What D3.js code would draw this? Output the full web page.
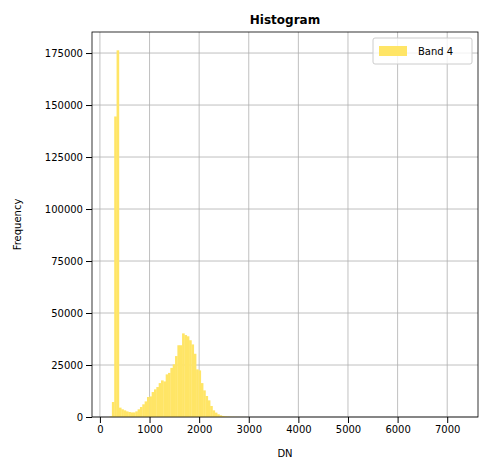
<!DOCTYPE html>
<html><head><meta charset="utf-8">
<script src="https://cdn.jsdelivr.net/npm/d3@7"></script>
<style>body{margin:0;background:#fff}text{font-family:"DejaVu Sans",sans-serif}</style>
</head><body><svg id="chart" width="489" height="470"></svg>
<script>
// histogram counts, 150 equal bins from binMin to binMax
const binMin = 194;
const binMax = 7267;
const counts = [300,7200,144500,176300,4500,3700,3200,2700,2400,2200,2200,2700,3700,4800,6100,7500,9600,9900,12000,13300,
  14400,16300,17600,17100,20500,21200,23600,25300,29300,34500,34500,40200,39400,38800,36900,34900,30400,22900,22400,16300,
  12800,10100,8000,5300,3200,2100,1300,800,500,300,200,150,100,80,60,40,30,20,10];
while (counts.length < 150) counts.push(0);
const xTicks = [0,1000,2000,3000,4000,5000,6000,7000];
const yTicks = [0,25000,50000,75000,100000,125000,150000,175000];

const svg = d3.select('#chart');
const m = {l: 92, r: 478, t: 32, b: 417};
const span = binMax - binMin;
const x = d3.scaleLinear().domain([binMin - 0.05*span, binMax + 0.05*span]).range([m.l, m.r]);
const y = d3.scaleLinear().domain([0, 176300*1.05]).range([m.b, m.t]);
const bw = span / counts.length;

// grid
svg.append('g').selectAll('line').data(xTicks).join('line')
  .attr('x1', d => x(d)).attr('x2', d => x(d)).attr('y1', m.t).attr('y2', m.b)
  .attr('stroke', '#b0b0b0').attr('stroke-width', 0.8);
svg.append('g').selectAll('line').data(yTicks).join('line')
  .attr('x1', m.l).attr('x2', m.r).attr('y1', d => y(d)).attr('y2', d => y(d))
  .attr('stroke', '#b0b0b0').attr('stroke-width', 0.8);

svg.append('g').selectAll('rect').data(counts).join('rect')
  .attr('x', (d, i) => x(binMin + i*bw)).attr('width', x(bw) - x(0) + 0.3)
  .attr('y', d => y(d)).attr('height', d => y(0) - y(d))
  .attr('fill', '#ffe566');

const xa = svg.append('g').attr('transform', `translate(0,${m.b})`)
  .call(d3.axisBottom(x).tickValues(xTicks).tickFormat(d3.format('d')).tickSizeOuter(0));
const ya = svg.append('g').attr('transform', `translate(${m.l},0)`)
  .call(d3.axisLeft(y).tickValues(yTicks).tickFormat(d3.format('d')).tickSizeOuter(0));
[xa, ya].forEach(a => { a.selectAll('text').attr('font-size', 10).attr('fill', '#000'); a.select('.domain').remove(); });
svg.append('rect').attr('x', m.l).attr('y', m.t).attr('width', m.r - m.l).attr('height', m.b - m.t)
  .attr('fill', 'none').attr('stroke', '#000').attr('stroke-width', 0.8);

svg.append('text').attr('x', (m.l + m.r)/2).attr('y', 24).attr('text-anchor', 'middle')
  .attr('font-size', 12).attr('font-weight', 'bold').text('Histogram');
svg.append('text').attr('x', (m.l + m.r)/2).attr('y', 457).attr('text-anchor', 'middle')
  .attr('font-size', 10).text('DN');
svg.append('text').attr('transform', `translate(21,${(m.t + m.b)/2}) rotate(-90)`).attr('text-anchor', 'middle')
  .attr('font-size', 10).text('Frequency');

const lg = svg.append('g');
lg.append('rect').attr('x', 373).attr('y', 38).attr('width', 99).attr('height', 26).attr('rx', 2)
  .attr('fill', '#fff').attr('fill-opacity', 0.8).attr('stroke', '#ccc');
lg.append('rect').attr('x', 379).attr('y', 46).attr('width', 28).attr('height', 10).attr('fill', '#ffe566');
lg.append('text').attr('x', 418).attr('y', 55).attr('font-size', 10).text('Band 4');
</script></body></html>
